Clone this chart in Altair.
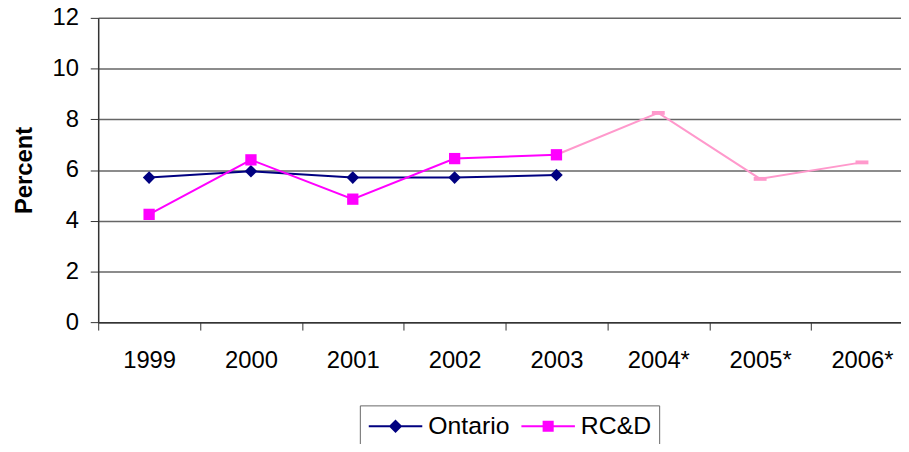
import altair as alt
import pandas as pd

years = ["1999", "2000", "2001", "2002", "2003", "2004*", "2005*", "2006*"]
ontario_years = ["1999", "2000", "2001", "2002", "2003"]
ontario = [5.7, 5.95, 5.7, 5.7, 5.8]
rcd_years = ["1999", "2000", "2001", "2002", "2003"]
rcd = [4.25, 6.4, 4.85, 6.45, 6.6]
fc_years = ["2003", "2004*", "2005*", "2006*"]
fc = [6.6, 8.25, 5.65, 6.3]
series_names = ["Ontario", "RC&D"]
series_colors = ["#000080", "#FF00FF"]
fc_color = "#FF99CC"

df_on = pd.DataFrame({"year": ontario_years, "value": ontario, "series": "Ontario"})
df_rc = pd.DataFrame({"year": rcd_years, "value": rcd, "series": "RC&D"})
df_fc = pd.DataFrame({"year": fc_years, "value": fc, "series": "RC&D forecast"})
df_fc_pts = df_fc[df_fc["year"] != "2003"]
df_leg = pd.concat([df_on.head(1), df_rc.head(1)])

FONT = "Liberation Sans"

x_enc = alt.X(
    "year:N",
    sort=years,
    scale=alt.Scale(domain=years, range=[0, 822], paddingInner=0, paddingOuter=0),
    axis=alt.Axis(
        title=None, labelAngle=0, tickBand="extent", grid=False,
        labelFontSize=24, labelFont=FONT, labelColor="#000",
        tickSize=8, tickColor="#333", domainColor="#333", domainWidth=1.5,
        labelPadding=19,
    ),
)
y_enc = alt.Y(
    "value:Q",
    scale=alt.Scale(domain=[0, 12], nice=False, zero=True),
    axis=alt.Axis(
        title="Percent", values=[0, 2, 4, 6, 8, 10, 12],
        labelFontSize=24, labelFont=FONT, labelColor="#000",
        titleFontSize=24, titleFont=FONT, titleFontWeight="bold", titleColor="#000",
        titlePadding=16,
        tickSize=8, tickColor="#333", domainColor="#333", domainWidth=1.5,
        gridColor="#666", gridWidth=1.5, labelPadding=12,
    ),
)

line_on = alt.Chart(df_on).mark_line(color="#000080", strokeWidth=2).encode(x=x_enc, y=y_enc)
pts_on = alt.Chart(df_on).mark_point(shape="diamond", filled=True, size=160, color="#000080", opacity=1).encode(x=x_enc, y=y_enc)
line_rc = alt.Chart(df_rc).mark_line(color="#FF00FF", strokeWidth=2).encode(x=x_enc, y=y_enc)
line_fc = alt.Chart(df_fc).mark_line(color=fc_color, strokeWidth=2).encode(x=x_enc, y=y_enc)
pts_rc = alt.Chart(df_rc).mark_point(shape="square", filled=True, size=130, color="#FF00FF", opacity=1).encode(x=x_enc, y=y_enc)
pts_fc = alt.Chart(df_fc_pts).mark_point(shape="M-1,-0.3H1V0.3H-1Z", filled=True, size=169, color=fc_color, opacity=1).encode(x=x_enc, y=y_enc)

leg_shapes = [
    "M-1,0H1M0,-0.2L0.2,0L0,0.2L-0.2,0Z",
    "M-1,0H1M-0.17,-0.17H0.17V0.17H-0.17Z",
]
legend = alt.Legend(
    title=None, orient="none", legendX=264, legendY=391, direction="horizontal",
    labelFontSize=25, labelFont=FONT, labelColor="#000",
    strokeColor="#666", padding=8, symbolStrokeWidth=2, symbolOpacity=1,
    symbolSize=2916, clipHeight=26, labelOffset=5, columnPadding=11,
)
leg_layer = alt.Chart(df_leg).mark_point(filled=True, size=2916, opacity=0, strokeWidth=2).encode(
    x=x_enc, y=y_enc,
    fill=alt.Fill("series:N", scale=alt.Scale(domain=series_names, range=series_colors), legend=legend),
    stroke=alt.Stroke("series:N", scale=alt.Scale(domain=series_names, range=series_colors), legend=legend),
    shape=alt.Shape("series:N", scale=alt.Scale(domain=series_names, range=leg_shapes), legend=legend),
)

chart = alt.layer(leg_layer, line_on, line_fc, line_rc, pts_on, pts_fc, pts_rc).properties(
    width=810, height=307,
    autosize=alt.AutoSizeParams(type="none"),
    padding={"left": 91, "top": 8, "right": 0, "bottom": 121},
).configure_view(stroke=None).configure(background="white")

chart.save("out.html", embed_options={"renderer": "svg", "actions": False})
